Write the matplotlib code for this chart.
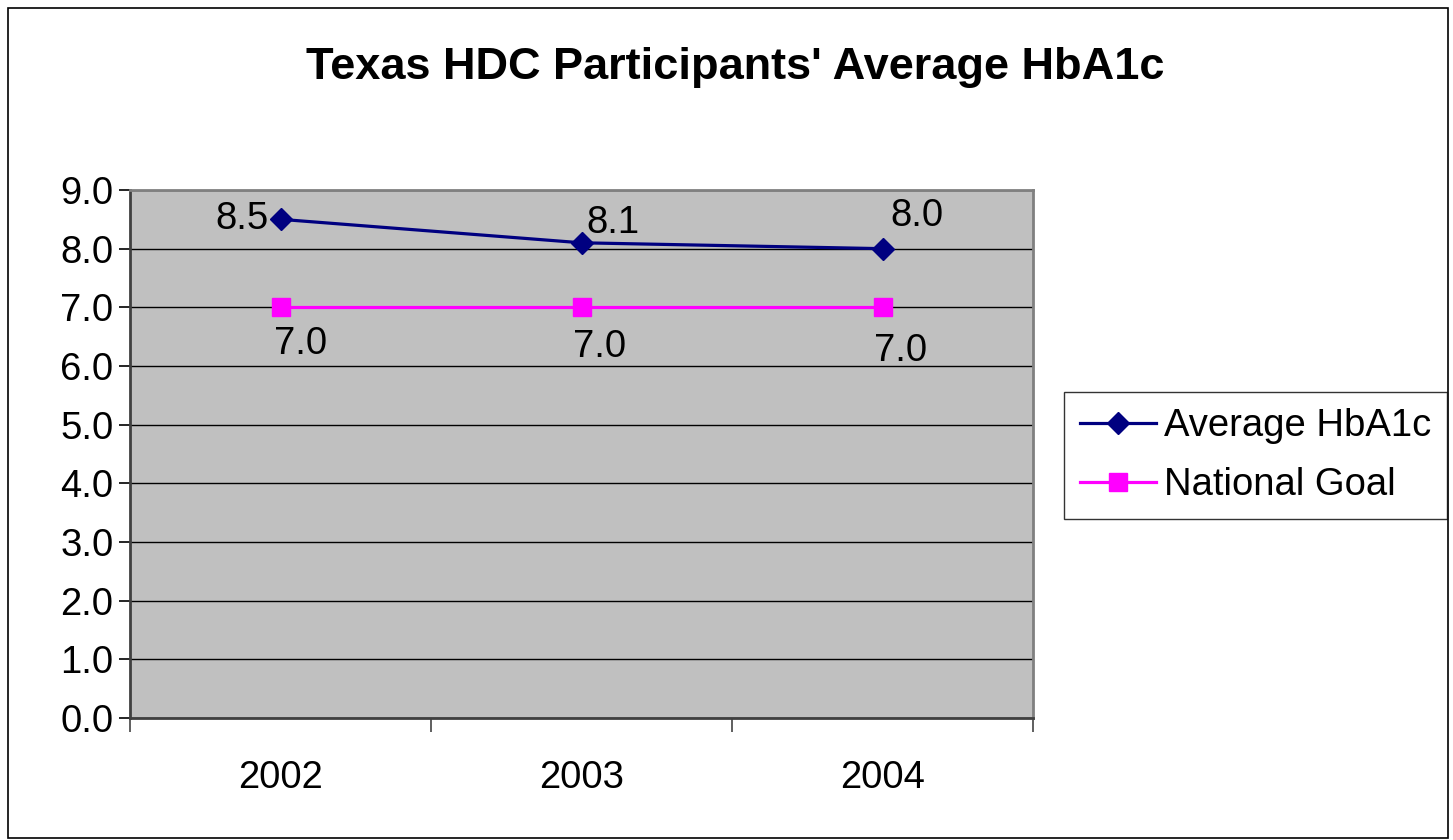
import matplotlib.pyplot as plt
import numpy as np

plt.rcParams['font.family'] = ['Liberation Sans', 'DejaVu Sans']

years = ['2002', '2003', '2004']
avg_hba1c = [8.5, 8.1, 8.0]
national_goal = [7.0, 7.0, 7.0]

fs = 27.5

fig = plt.figure(figsize=(14.53, 8.4), dpi=100)
ax = fig.add_axes([130/1453, 1 - 718/840, 903/1453, 528/840])
ax.set_facecolor('#C0C0C0')

x = np.arange(len(years))
ax.plot(x, avg_hba1c, color='#000080', lw=2.3, marker='D', ms=11, label='Average HbA1c', zorder=4)
ax.plot(x, national_goal, color='#FF00FF', lw=2.3, marker='s', ms=13, label='National Goal', zorder=4)

# data labels
avg_off = [(-12, 0, 'right'), (5, 20, 'left'), (8, 33, 'left')]
for xi, v, (dx, dy, ha) in zip(x, avg_hba1c, avg_off):
    ax.annotate(f'{v:.1f}', (xi, v), xytext=(dx, dy), textcoords='offset pixels',
                ha=ha, va='center', fontsize=fs)
goal_off = [(20, -37), (18, -40), (18, -44)]
for xi, v, (dx, dy) in zip(x, national_goal, goal_off):
    ax.annotate(f'{v:.1f}', (xi, v), xytext=(dx, dy), textcoords='offset pixels',
                ha='center', va='center', fontsize=fs)

ax.set_xlim(-0.5, 2.5)
ax.set_ylim(0, 9)
ax.set_yticks(np.arange(0, 10, 1))
ax.set_yticklabels([f'{v:.1f}' for v in np.arange(0, 10, 1)])
ax.yaxis.grid(True, color='black', lw=1)
ax.set_axisbelow(True)
ax.set_xticks(x)
ax.set_xticklabels(years)
ax.set_xticks([-0.5, 0.5, 1.5, 2.5], minor=True)
ax.tick_params(axis='x', which='major', length=0, labelsize=fs, pad=30)
ax.tick_params(axis='x', which='minor', length=10, width=1.2, color='#444444')
ax.tick_params(axis='y', length=8, width=1.2, labelsize=fs, pad=4)

for side in ['top', 'right']:
    ax.spines[side].set_color('#808080')
    ax.spines[side].set_linewidth(2)
ax.spines['left'].set_color('#404040')
ax.spines['bottom'].set_color('#404040')
ax.spines['left'].set_linewidth(2)
ax.spines['bottom'].set_linewidth(2)

fig.text(735/1453, 1 - 68/840, "Texas HDC Participants' Average HbA1c", fontsize=32.5,
         fontweight='bold', ha='center', va='center')

leg = fig.legend(loc='upper left', bbox_to_anchor=(1064/1453, 1 - 392/840), fontsize=fs,
                 frameon=True, fancybox=False, edgecolor='black', handlelength=2.0,
                 borderpad=0.42, labelspacing=0.6, handletextpad=0.2, borderaxespad=0)
leg.get_frame().set_linewidth(1)

fig.patches.append(plt.Rectangle((8/1453, 0.002), 1440/1453, 1 - 8/840 - 0.002, transform=fig.transFigure,
                                 fill=False, edgecolor='black', lw=1.2))

fig.savefig('out.png', dpi=100)
